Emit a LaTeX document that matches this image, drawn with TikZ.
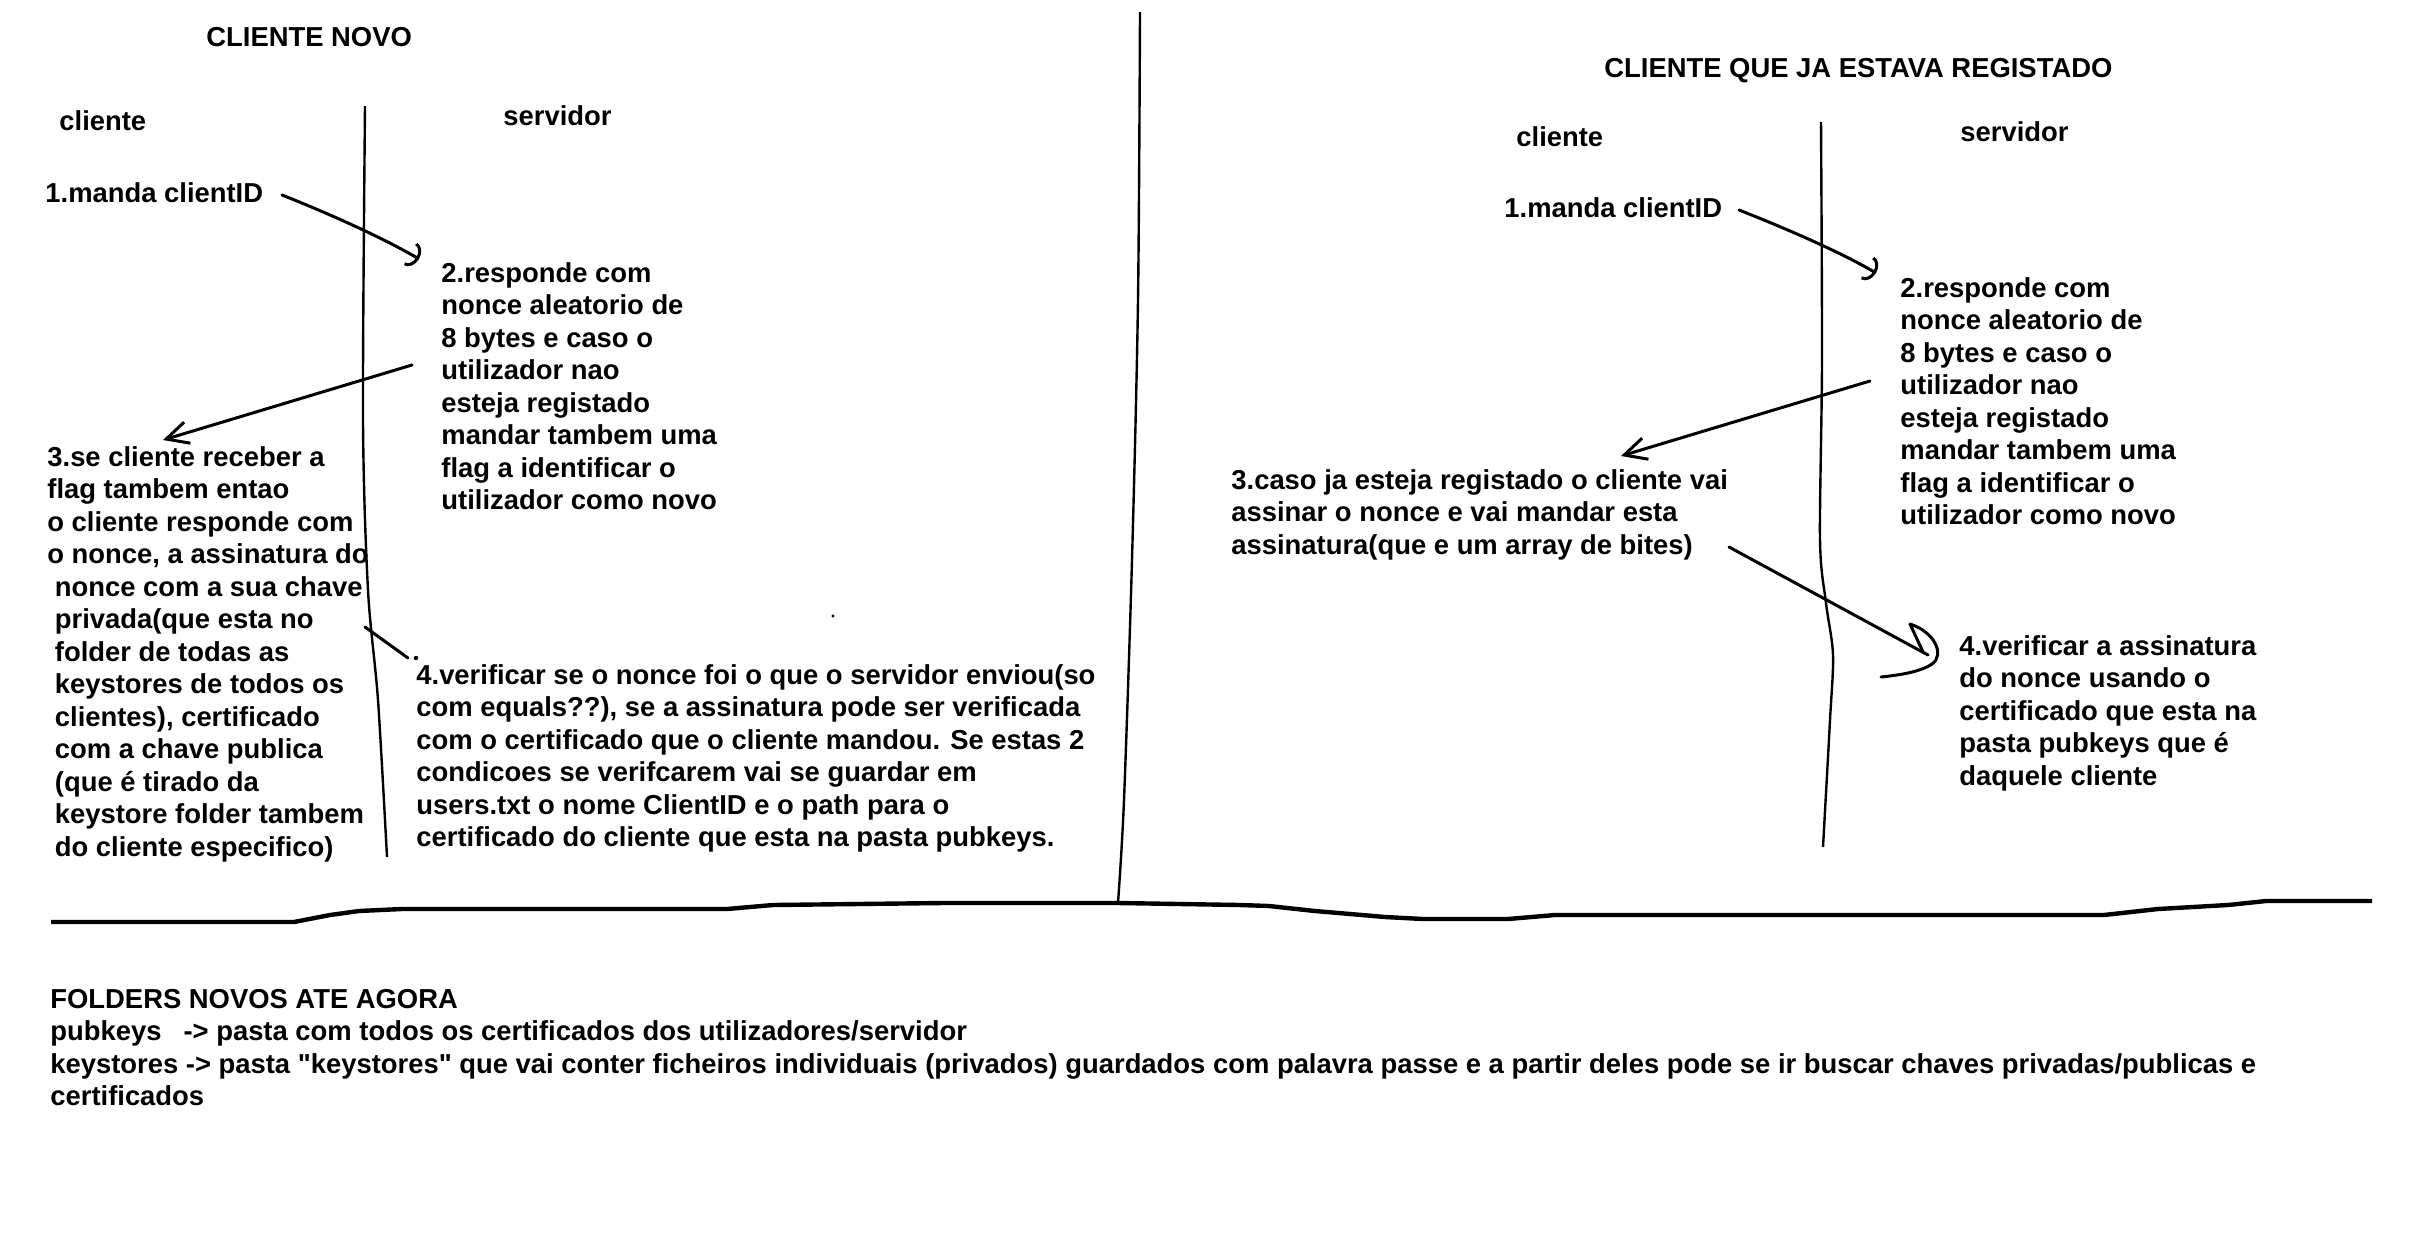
\documentclass[tikz,border=0pt]{standalone}
\usepackage{fontspec}
\setmainfont[Ligatures=TeXOff]{Liberation Sans}
\usepackage{tikz}
\usetikzlibrary{arrows.meta}
\newcommand\sketchfont{\fontsize{13.7}{16.25}\selectfont\bfseries}
\tikzstyle{pen} = [draw, line width=1.5pt, line cap=round, line join=round]
\tikzstyle{lane} = [draw, line width=1.2pt]
\tikzstyle{floor} = [draw, line width=2.2pt]
\tikzset{sbarb/.tip={Straight Barb[length=11pt,width=11pt,line width=1.5pt]},
  cbarb/.tip={Arc Barb[length=5pt,width=13pt,line width=1.5pt]}}

\begin{document}
\begin{tikzpicture}[x=0.5pt, y=-0.5pt,
      txt/.style={anchor=base west,
      inner sep=0pt,
      align=left,
      font=\sketchfont}]
    \useasboundingbox (0,0) rectangle (2426,1232);
    %% left half (multi-line texts sit on their last baseline)
    \node [txt] (T1) at (206,46) {CLIENTE NOVO};
    \node [txt] (C1) at (59,130) {cliente};
    \node [txt] (V1) at (503,125) {servidor};
    \node [txt] (M1) at (45,202) {1.manda clientID};
    \node [txt] (R1) at (441,509.5) {2.responde com\\nonce aleatorio de\\8 bytes e caso o\\utilizador nao\\esteja registado\\mandar tambem uma\\flag a identificar o\\utilizador como novo};
    \node [txt] (S1) at (47,856) {3.se cliente receber a\\flag tambem entao\\o cliente responde com\\o nonce, a assinatura do\\\hspace*{3.75pt}nonce com a sua chave\\\hspace*{3.75pt}privada(que esta no\\\hspace*{3.75pt}folder de todas as\\\hspace*{3.75pt}keystores de todos os\\\hspace*{3.75pt}clientes), certificado\\\hspace*{3.75pt}com a chave publica\\\hspace*{3.75pt}(que é tirado da\\\hspace*{3.75pt}keystore folder tambem\\\hspace*{3.75pt}do cliente especifico)};
    \node [txt] (K1) at (416,846.5) {4.verificar se o nonce foi o que o servidor enviou(so\\com equals??), se a assinatura pode ser verificada\\com o certificado que o cliente mandou. Se estas 2\\condicoes se verifcarem vai se guardar em\\users.txt o nome ClientID e o path para o\\certificado do cliente que esta na pasta pubkeys.};
    \path [lane] plot [smooth] coordinates {(365,106) (363,420) (368,590) (378,700) (387,857)};
    %% messages
    \coordinate (a1) at (282,195);
    \coordinate (b1) at (419,259);
    \coordinate (a2) at (412,365);
    \coordinate (b2) at (163,440);
    \coordinate (a3) at (365,627);
    \coordinate (b3) at (408,658);
    \path [pen, -cbarb] (a1) .. controls (320,210) and (380,236) .. (b1);
    \path [pen, -sbarb] (a2) -- (b2);
    \path [pen] (a3) -- (b3);
    \fill (416,658) circle [radius=2.2];
    \fill (833,616) circle [radius=1.6];
    %% divider
    \path [lane] plot [smooth] coordinates {(1140,12) (1138,300) (1132,560) (1124,800) (1118,903)};
    \path [floor] (51,922) -- (294,922) -- (330,915) -- (359,911) -- (402,909) -- (727,909) -- (773,905) -- (944,903) -- (1118,903) -- (1240,905) -- (1269,906) -- (1315,911) -- (1385,917) -- (1423,919) -- (1508,919) -- (1555,915) -- (2104,915) -- (2158,909) -- (2228,905) -- (2266,901) -- (2372,901);
    %% right half
    \node [txt] (T2) at (1604,77) {CLIENTE QUE JA ESTAVA REGISTADO};
    \node [txt] (C2) at (1516,146) {cliente};
    \node [txt] (V2) at (1960,141) {servidor};
    \node [txt] (M2) at (1504,217) {1.manda clientID};
    \node [txt] (R2) at (1900,524.5) {2.responde com\\nonce aleatorio de\\8 bytes e caso o\\utilizador nao\\esteja registado\\mandar tambem uma\\flag a identificar o\\utilizador como novo};
    \node [txt] (S2) at (1231,554) {3.caso ja esteja registado o cliente vai\\assinar o nonce e vai mandar esta\\assinatura(que e um array de bites)};
    \node [txt] (K2) at (1959,785) {4.verificar a assinatura\\do nonce usando o\\certificado que esta na\\pasta pubkeys que é\\daquele cliente};
    \path [lane] plot [smooth] coordinates {(1821,122) (1822,360) (1820,540) (1826,603) (1833,655) (1830,720) (1823,847)};
    \coordinate (a4) at (1739,210);
    \coordinate (b4) at (1876,273);
    \coordinate (a5) at (1870,381);
    \coordinate (b5) at (1621,456);
    \coordinate (a6) at (1729,547);
    \coordinate (b6) at (1928,655);
    \path [pen, -cbarb] (a4) .. controls (1777,225) and (1837,250) .. (b4);
    \path [pen, -sbarb] (a5) -- (b5);
    \path [pen] (a6) -- (b6);
    \path [pen] (1923,652) -- (1910,624) .. controls (1935,632) and (1945,655) .. (1932,664) .. controls (1920,672) and (1900,675) .. (1881,677);
    %% folders
    \node [txt] (F1) at (50,1105.5) {FOLDERS NOVOS ATE AGORA\\pubkeys\hspace*{11pt}-> pasta com todos os certificados dos utilizadores/servidor\\keystores -> pasta "keystores" que vai conter ficheiros individuais (privados) guardados com palavra passe e a partir deles pode se ir buscar chaves privadas/publicas e\\certificados};
  \end{tikzpicture}
\end{document}
